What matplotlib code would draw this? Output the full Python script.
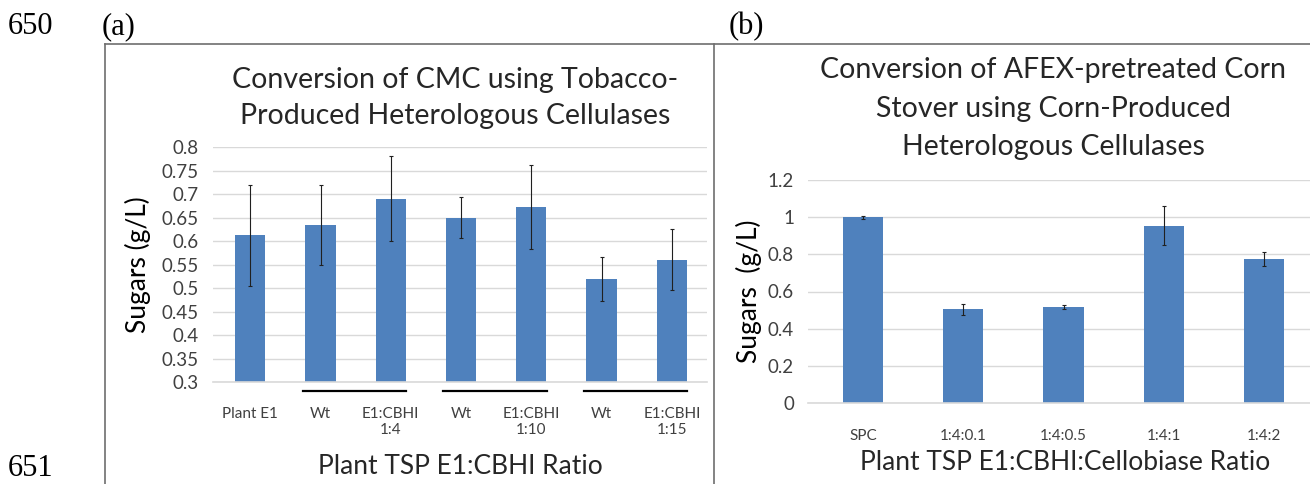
import matplotlib
matplotlib.use('Agg')
import matplotlib.pyplot as plt
from matplotlib.lines import Line2D
import numpy as np

# (a) tobacco, CMC
labels_a = ['Plant E1', 'Wt', 'E1:CBHI\n1:4', 'Wt', 'E1:CBHI\n1:10', 'Wt', 'E1:CBHI\n1:15']
sugars_a = [0.612, 0.635, 0.690, 0.650, 0.672, 0.520, 0.560]
err_a = [0.108, 0.085, 0.090, 0.043, 0.090, 0.047, 0.065]
groups_a = [(1, 2), (3, 4), (5, 6)]  # pairs underlined

# (b) corn, AFEX corn stover
labels_b = ['SPC', '1:4:0.1', '1:4:0.5', '1:4:1', '1:4:2']
sugars_b = [1.000, 0.505, 0.517, 0.955, 0.775]
err_b = [0.008, 0.030, 0.012, 0.105, 0.040]

W, H = 1310, 484
BLUE = '#4F81BD'
GRID = '#D9D9D9'
FONT = 'Lato'
SERIF = 'Liberation Serif'


def fx(px):
    return px / W


def fy(py):
    return 1 - py / H


fig = plt.figure(figsize=(W / 100, H / 100), dpi=100)

# рамки панелей
frame = dict(color='#6e6e6e', linewidth=1.2, transform=fig.transFigure)
fig.add_artist(Line2D([fx(105), fx(1310)], [fy(44), fy(44)], **frame))
fig.add_artist(Line2D([fx(105), fx(105)], [fy(44), fy(484)], **frame))
fig.add_artist(Line2D([fx(714), fx(714)], [fy(44), fy(484)], **frame))

fig.text(fx(8), fy(27), '650', fontsize=22, family=SERIF, va='center', ha='left')
fig.text(fx(102), fy(27), '(a)', fontsize=22, family=SERIF, va='center', ha='left')
fig.text(fx(729), fy(27), '(b)', fontsize=22, family=SERIF, va='center', ha='left')
fig.text(fx(8), fy(483), '651', fontsize=22, family=SERIF, va='bottom', ha='left')


def style(ax, tick_size):
    for s in ['top', 'right', 'left']:
        ax.spines[s].set_visible(False)
    ax.spines['bottom'].set_color(GRID)
    ax.spines['bottom'].set_linewidth(1.2)
    ax.grid(axis='y', color=GRID, linewidth=1)
    ax.set_axisbelow(True)
    ax.tick_params(length=0)
    ax.tick_params(axis='y', labelsize=tick_size, pad=10)
    for t in ax.get_yticklabels():
        t.set_family(FONT)
        t.set_color('#404040')


# ---- панель (a)
ax1 = fig.add_axes([fx(213), fy(382), fx(707 - 213), (382 - 147) / H])
x1 = np.arange(len(labels_a))
ax1.bar(x1, sugars_a, width=0.43, color=BLUE, zorder=2)
ax1.errorbar(x1, sugars_a, yerr=err_a, fmt='none', ecolor='#202020',
             elinewidth=0.8, capsize=1.5, capthick=0.8, zorder=3)
ax1.set_ylim(0.3, 0.8)
ax1.set_xlim(-0.53, 6.5)
ax1.set_yticks(np.arange(0.3, 0.801, 0.05))
ax1.set_yticklabels(['0.3', '0.35', '0.4', '0.45', '0.5', '0.55', '0.6',
                     '0.65', '0.7', '0.75', '0.8'])
ax1.set_xticks(x1)
ax1.set_xticklabels(labels_a, fontsize=11, family=FONT, color='#404040')
ax1.tick_params(axis='x', pad=18)
style(ax1, 13.5)
for a, b in groups_a:
    ax1.plot([a - 0.25, b + 0.22], [-0.04, -0.04], color='black', linewidth=1.6,
             transform=ax1.get_xaxis_transform(), clip_on=False)
ax1.set_ylabel('Sugars (g/L)', fontsize=19, family=FONT, labelpad=8)
fig.text(fx(455), fy(80), 'Conversion of CMC using Tobacco-', fontsize=20.5,
         family=FONT, ha='center', va='center', color='#262626')
fig.text(fx(455), fy(116), 'Produced Heterologous Cellulases', fontsize=20.5,
         family=FONT, ha='center', va='center', color='#262626')
fig.text(fx(460), fy(466), 'Plant TSP E1:CBHI Ratio', fontsize=19,
         family=FONT, ha='center', va='center', color='#262626')

# ---- панель (b)
ax2 = fig.add_axes([fx(808), fy(403), fx(1314 - 808), (403 - 180) / H])
x2 = np.arange(len(labels_b))
ax2.bar(x2, sugars_b, width=0.4, color=BLUE, zorder=2)
ax2.errorbar(x2, sugars_b, yerr=err_b, fmt='none', ecolor='#202020',
             elinewidth=0.8, capsize=1.5, capthick=0.8, zorder=3)
ax2.set_ylim(0, 1.2)
ax2.set_xlim(-0.55, 4.5)
ax2.set_yticks(np.arange(0, 1.21, 0.2))
ax2.set_yticklabels(['0', '0.2', '0.4', '0.6', '0.8', '1', '1.2'])
ax2.set_xticks(x2)
ax2.set_xticklabels(labels_b, fontsize=11, family=FONT, color='#404040')
ax2.tick_params(axis='x', pad=19)
style(ax2, 13.5)
ax2.set_ylabel('Sugars  (g/L)', fontsize=19, family=FONT, labelpad=4)
for i, line in enumerate(['Conversion of AFEX-pretreated Corn',
                          'Stover using Corn-Produced',
                          'Heterologous Cellulases']):
    fig.text(fx(1053), fy(70 + 38.5 * i), line, fontsize=20.5, family=FONT,
             ha='center', va='center', color='#262626')
fig.text(fx(1065), fy(463), 'Plant TSP E1:CBHI:Cellobiase Ratio', fontsize=19,
         family=FONT, ha='center', va='center', color='#262626')

fig.savefig('out.png', dpi=100)
